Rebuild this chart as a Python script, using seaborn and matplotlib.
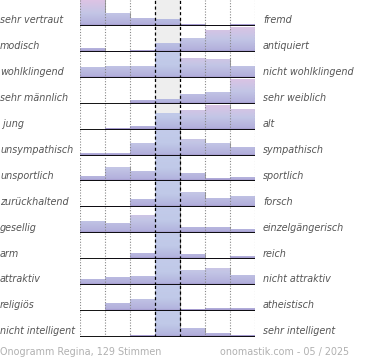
import numpy as np
import pandas as pd
import matplotlib
matplotlib.use("Agg")
import matplotlib.pyplot as plt
from matplotlib.colors import LinearSegmentedColormap
import seaborn as sns

# Onogramm: share of votes per scale step, as fraction of the row height (clipped at 1)
left_labels = ["sehr vertraut", "modisch", "wohlklingend", "sehr männlich", " jung",
               "unsympathisch", "unsportlich", "zurückhaltend", "gesellig", "arm",
               "attraktiv", "religiös", "nicht intelligent"]
right_labels = ["fremd", "antiquiert", "nicht wohlklingend", "sehr weiblich", "alt",
                "sympathisch", "sportlich", "forsch", "einzelgängerisch", "reich",
                "nicht attraktiv", "atheistisch", "sehr intelligent"]
steps = ["1", "2", "3", "4", "5", "6", "7"]

v_vertraut = [1.00, 0.48, 0.30, 0.25, 0.09, 0.03, 0.09]
v_modisch = [0.13, 0.05, 0.09, 0.34, 0.52, 0.86, 0.97]
v_wohlklingend = [0.41, 0.45, 0.45, 1.00, 0.77, 0.72, 0.45]
v_maennlich = [0.00, 0.00, 0.13, 0.19, 0.36, 0.46, 0.95]
v_jung = [0.00, 0.06, 0.13, 0.64, 0.77, 0.94, 0.81]
v_unsympathisch = [0.10, 0.10, 0.48, 1.00, 0.62, 0.48, 0.32]
v_unsportlich = [0.22, 0.54, 0.42, 1.00, 0.34, 0.12, 0.18]
v_zurueckhaltend = [0.05, 0.05, 0.31, 1.00, 0.58, 0.35, 0.45]
v_gesellig = [0.48, 0.40, 0.69, 1.00, 0.24, 0.24, 0.15]
v_arm = [0.00, 0.06, 0.23, 1.00, 0.19, 0.06, 0.14]
v_attraktiv = [0.22, 0.31, 0.36, 1.00, 0.58, 0.65, 0.38]
v_religioes = [0.00, 0.32, 0.47, 1.00, 0.08, 0.13, 0.13]
v_intelligent = [0.00, 0.00, 0.09, 1.00, 0.35, 0.14, 0.08]

rows = [v_vertraut, v_modisch, v_wohlklingend, v_maennlich, v_jung, v_unsympathisch,
        v_unsportlich, v_zurueckhaltend, v_gesellig, v_arm, v_attraktiv, v_religioes,
        v_intelligent]

title_left = "Onogramm Regina, 129 Stimmen"
title_right = "onomastik.com - 05 / 2025"

# colour gradients (bottom -> top)
cmap_side = LinearSegmentedColormap.from_list(
    "side", [(0.0, "#9a8bc4"), (0.08, "#b3b0dc"), (0.5, "#c3c6e6"), (1.0, "#ddc3e4")])
cmap_mid = LinearSegmentedColormap.from_list(
    "mid", [(0.0, "#9a8bc4"), (0.08, "#b3b4de"), (0.5, "#c0c9e8"), (1.0, "#c3cbea")])
grad = np.linspace(0, 1, 100).reshape(-1, 1)

fig, axes = plt.subplots(len(rows), 1, figsize=(3.7, 3.6), dpi=100)
fig.subplots_adjust(left=80 / 370, right=255 / 370, top=1.0, bottom=1 - 337 / 360, hspace=0)

label_col = "#555555"
fs = 6.9
for ax, vals, ll, rl in zip(axes, rows, left_labels, right_labels):
    df = pd.DataFrame({"step": steps, "share": vals})
    ax.axvspan(2.5, 3.5, color="#eeeeee", zorder=0, lw=0)
    sns.barplot(data=df, x="step", y="share", ax=ax, width=1, color="#c3c6e6",
                edgecolor="#8f8f8f", linewidth=0.6, zorder=2)
    for i, p in enumerate(ax.containers[0]):
        x0 = p.get_x()
        w = p.get_width()
        im = ax.imshow(grad, extent=[x0, x0 + w, 0, 1], origin="lower", aspect="auto",
                       cmap=cmap_mid if i == 3 else cmap_side, zorder=2.5)
        im.set_clip_path(p)
    for xb in [-0.5, 0.5, 1.5, 4.5, 5.5, 6.5]:
        ax.axvline(xb, color="#888888", lw=0.8, ls=(0, (1, 1.5)), zorder=3)
    for xb in [2.5, 3.5]:
        ax.axvline(xb, color="black", lw=0.9, ls=(0, (2.5, 2)), zorder=3)
    ax.axhline(0.0, color="black", lw=1.3, zorder=4)
    ax.set_xlim(-0.5, 6.5)
    ax.set_ylim(0, 1)
    ax.set_axis_off()
    ax.text(-0.5 - 80 / 25, 0.22, ll, ha="left", va="center",
            fontsize=fs, style="italic", color=label_col, clip_on=False)
    ax.text(6.5 + 8 / 25, 0.22, rl, ha="left", va="center",
            fontsize=fs, style="italic", color=label_col, clip_on=False)

fig.text(0 / 370, 1 - 352 / 360, title_left, ha="left", va="center",
         fontsize=fs, color="#b0b0b0")
fig.text(220 / 370, 1 - 352 / 360, title_right, ha="left", va="center",
         fontsize=fs, color="#b0b0b0")

fig.savefig("out.png", dpi=100)
